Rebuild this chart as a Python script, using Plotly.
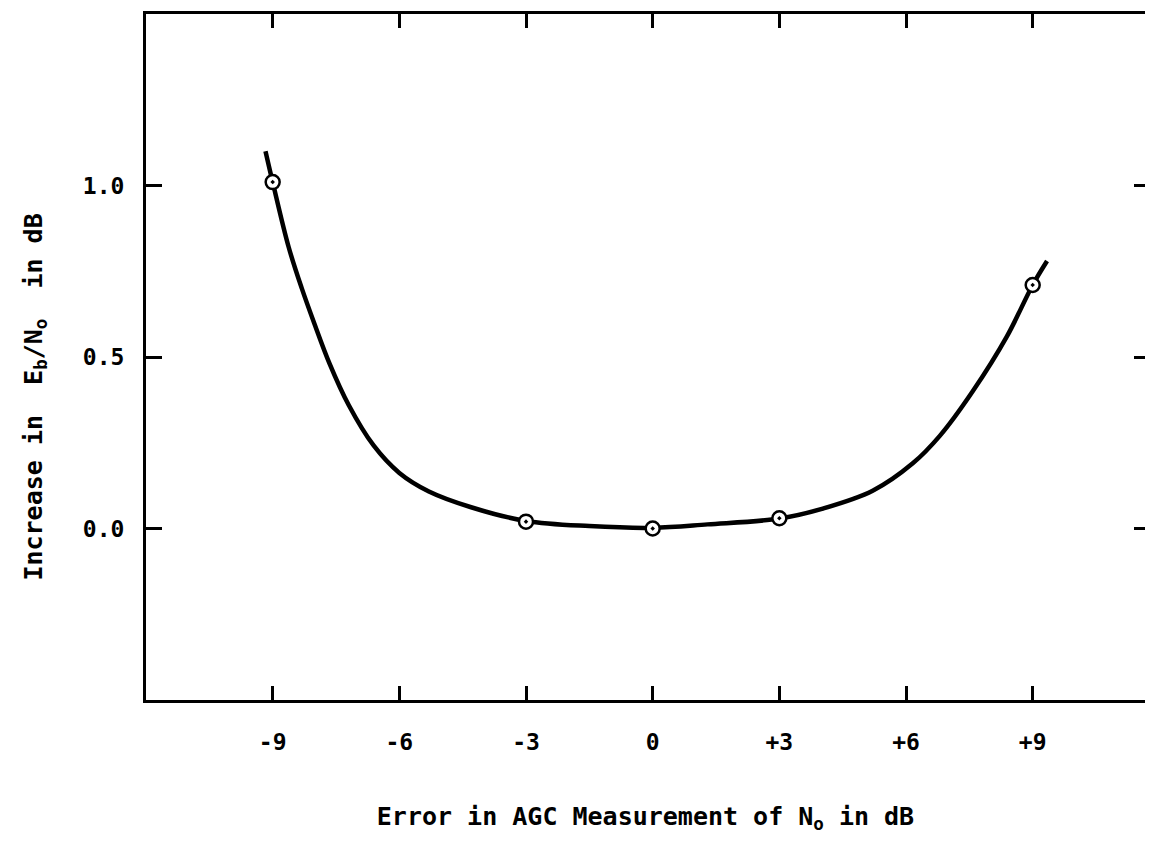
import plotly.graph_objects as go

# measured points (open circles with centre dot)
x_points = [-9, -3, 0, 3, 9]
y_points = [1.01, 0.02, 0.0, 0.03, 0.71]

# hand-drawn smooth curve
curve_x = [-9.17, -9.0, -8.62, -8.31, -8.02, -7.65, -7.20, -6.61, -6.0, -5.3,
           -4.3, -3.0, -1.5, 0.0, 1.3, 3.0, 4.03, 5.21, 6.16, 6.80, 7.58, 8.39,
           9.0, 9.34]
curve_y = [1.10, 1.01, 0.82, 0.70, 0.60, 0.48, 0.36, 0.242, 0.162, 0.108,
           0.062, 0.022, 0.007, 0.002, 0.012, 0.029, 0.058, 0.11, 0.19, 0.27,
           0.40, 0.56, 0.71, 0.78]

x_tickvals = [-9, -6, -3, 0, 3, 6, 9]
x_ticktext = ["-9", "-6", "-3", "0", "+3", "+6", "+9"]
y_tickvals = [0.0, 0.5, 1.0]
y_ticktext = ["0.0", "0.5", "1.0"]

x_range = [-12, 11.66]
y_range = [-0.5, 1.5]

FONT = "DejaVu Sans Mono"
INK = "black"

fig = go.Figure()
fig.add_trace(go.Scatter(x=curve_x, y=curve_y, mode="lines",
                         line=dict(color=INK, width=4.5, shape="spline", smoothing=1.0),
                         hoverinfo="skip", showlegend=False))
fig.add_trace(go.Scatter(x=x_points, y=y_points, mode="markers",
                         marker=dict(symbol="circle", size=14, color="white",
                                     line=dict(width=0)),
                         hoverinfo="skip", showlegend=False))
fig.add_trace(go.Scatter(x=x_points, y=y_points, mode="markers",
                         marker=dict(symbol="circle-open-dot", size=14, color=INK,
                                     line=dict(width=2.5, color=INK)),
                         showlegend=False))
# invisible trace so the right-hand tick axis is drawn
fig.add_trace(go.Scatter(x=x_points, y=y_points, yaxis="y2", mode="markers",
                         marker=dict(opacity=0), hoverinfo="skip", showlegend=False))

# the page body keeps its default 8px margin, so the figure is made smaller
fig.update_layout(
    template="none",
    width=1137, height=826,
    margin=dict(l=138, r=0, t=6, b=134, pad=0, autoexpand=False),
    paper_bgcolor="white", plot_bgcolor="white",
    font=dict(family=FONT, color=INK, size=24),
    showlegend=False,
    xaxis=dict(range=x_range, tickvals=x_tickvals, ticktext=x_ticktext,
               automargin=False, showgrid=False, zeroline=False,
               showline=True, linecolor=INK, linewidth=3, mirror="ticks",
               ticks="inside", ticklen=14, tickwidth=3, tickcolor=INK,
               ticklabelstandoff=19,
               tickfont=dict(family=FONT, size=23, weight=700, color=INK),
               title=dict(text="Error in AGC Measurement of N<sub>o</sub> in dB",
                          font=dict(family=FONT, size=25, weight=700, color=INK),
                          standoff=54)),
    yaxis=dict(range=y_range, tickvals=y_tickvals, ticktext=y_ticktext,
               automargin=False, showgrid=False, zeroline=False,
               showline=True, linecolor=INK, linewidth=3, mirror=False,
               ticks="inside", ticklen=16, tickwidth=3, tickcolor=INK,
               ticklabelstandoff=14,
               tickfont=dict(family=FONT, size=23, weight=700, color=INK)),
    yaxis2=dict(overlaying="y", side="right", matches="y", range=y_range,
                automargin=False, tickvals=y_tickvals, showticklabels=False,
                showgrid=False, zeroline=False, showline=False,
                ticks="inside", ticklen=11, tickwidth=3, tickcolor=INK),
    annotations=[dict(text="Increase in  E<sub>b</sub>/N<sub>o</sub>  in dB",
                      textangle=-90, xref="paper", yref="paper",
                      x=-0.111, y=0.441, xanchor="center", yanchor="middle",
                      showarrow=False,
                      font=dict(family=FONT, size=25, weight=700, color=INK))],
)

fig.write_html("out.html")
